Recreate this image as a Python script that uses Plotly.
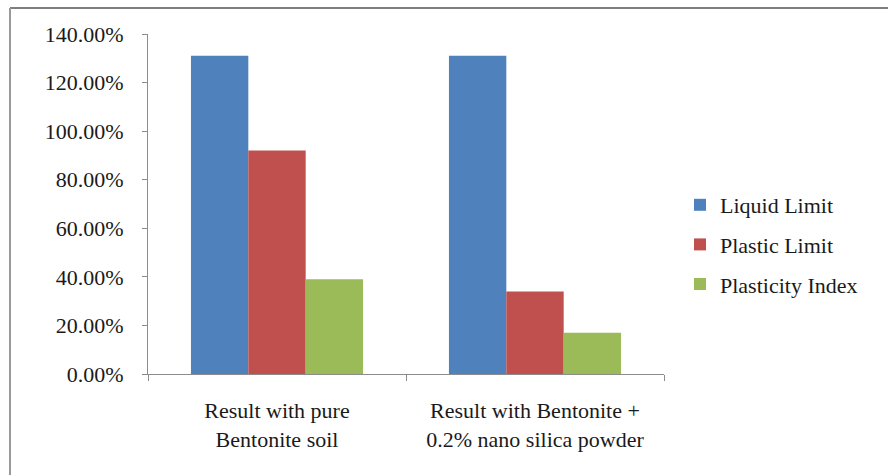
import plotly.graph_objects as go

# Atterberg limits of bentonite, with and without nano silica
categories = [
    "Result with pure<br>Bentonite soil",
    "Result with Bentonite +<br>0.2% nano silica powder",
]
series_names = ["Liquid Limit", "Plastic Limit", "Plasticity Index"]
liquid_limit = [1.31, 1.31]
plastic_limit = [0.92, 0.34]
plasticity_index = [0.39, 0.17]
y_ticks = [0, 0.2, 0.4, 0.6, 0.8, 1.0, 1.2, 1.4]

colors = ["#4F81BD", "#C0504D", "#9BBB59"]
font_family = "Liberation Serif"

W, H = 888, 475
ML, MR, MT, MB = 148, 224, 34, 101
PW, PH = W - ML - MR, H - MT - MB


def px_x(px):
    return (px - ML) / PW


def px_y(py):
    return (H - MB - py) / PH


fig = go.Figure()
for name, vals, col in zip(series_names, [liquid_limit, plastic_limit, plasticity_index], colors):
    fig.add_trace(go.Bar(
        x=categories, y=vals, name=name, legendgroup=name,
        marker=dict(color=col, line=dict(width=0)),
    ))

axis_gray = "#8c8c8c"
text_font = dict(family=font_family, size=22, color="#1a1a1a")
fig.update_layout(
    width=W, height=H,
    margin=dict(l=ML, r=MR, t=MT, b=MB, pad=0),
    paper_bgcolor="white", plot_bgcolor="white",
    barmode="group", bargap=0.333, bargroupgap=0,
    font=text_font,
    showlegend=True,
    legend=dict(
        x=px_x(680), xanchor="left", y=px_y(184), yanchor="top",
        font=text_font,
        tracegroupgap=8, bgcolor="rgba(0,0,0,0)",
        itemclick=False,
    ),
    xaxis=dict(
        type="category", showline=True, linecolor=axis_gray, linewidth=1,
        ticks="outside", tickson="boundaries", ticklen=6, tickcolor=axis_gray,
        showgrid=False, ticklabelstandoff=17,
        tickfont=text_font,
    ),
    yaxis=dict(
        range=[0, 1.4], tickvals=y_ticks, tickformat=".2%",
        showline=True, linecolor=axis_gray, linewidth=1,
        ticks="outside", ticklen=5, tickcolor=axis_gray,
        showgrid=False, zeroline=False, ticklabelstandoff=14,
        tickfont=text_font,
    ),
    shapes=[
        # outer chart frame (top and left edges)
        dict(type="line", xref="paper", yref="paper",
             x0=px_x(10), x1=px_x(W + 5), y0=px_y(8), y1=px_y(8),
             line=dict(color="#7f7f7f", width=2)),
        dict(type="line", xref="paper", yref="paper",
             x0=px_x(10), x1=px_x(10), y0=px_y(8), y1=px_y(H + 5),
             line=dict(color="#9a9a9a", width=2)),
    ],
)

fig.write_html("out.html")
